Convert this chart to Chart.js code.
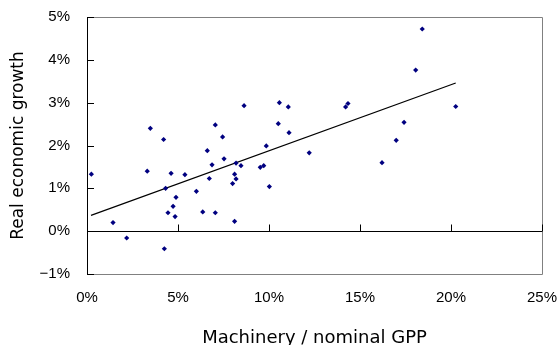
<!DOCTYPE html>
<html>
<head>
<meta charset="utf-8">
<script src="https://cdn.jsdelivr.net/npm/chart.js@4"></script>
<style>
  html, body { margin: 0; padding: 0; background: #fff; }
  #wrap { width: 560px; height: 345px; }
</style>
</head>
<body>
<div id="wrap"><canvas id="chart"></canvas></div>
<script>
// machinery / nominal GPP (%) and real economic growth (%), one point per prefecture
const machineryShare = [
    0.24, 1.43, 2.18, 3.31, 3.48, 4.21, 4.25, 4.32, 4.45, 4.62,
    4.73, 4.84, 4.89, 5.38, 6.01, 6.36, 6.61, 6.72, 6.87, 7.05,
    7.05, 7.45, 7.53, 8.00, 8.11, 8.11, 8.19, 8.19, 8.46, 8.63,
    9.52, 9.71, 9.85, 10.02, 10.51, 10.57, 11.06, 11.10, 12.21, 14.21,
    14.34, 16.21, 16.99, 17.42, 18.06, 18.42, 20.26
];
const realGrowth = [
    1.33, 0.20, -0.16, 1.40, 2.40, 2.14, -0.41, 1.00, 0.43, 1.35,
    0.58, 0.34, 0.79, 1.32, 0.93, 0.45, 1.88, 1.23, 1.55, 2.48,
    0.43, 2.20, 1.69, 1.11, 1.33, 0.23, 1.22, 1.59, 1.53, 2.93,
    1.49, 1.53, 1.99, 1.04, 2.51, 3.00, 2.90, 2.30, 1.83, 2.90,
    2.98, 1.60, 2.12, 2.54, 3.76, 4.72, 2.91
];

// trend line end points
const trendX = [0.22, 20.26];
const trendY = [0.37, 3.46];

const X_TICKS = [0, 5, 10, 15, 20, 25];
const Y_TICKS = [-1, 0, 1, 2, 3, 4, 5];

const FONT = "'Liberation Sans', Arial, sans-serif";
const TITLE_FONT = "'DejaVu Sans', sans-serif";

const pctLabel = v => (v < 0 ? "\u2212" + Math.abs(v) : v) + "%";

/* inward tick marks + grey frame */
const frameTicks = {
    id: "frameTicks",
    beforeDatasetsDraw(chart) {
        const { ctx, chartArea: a, scales } = chart;
        ctx.save();
        ctx.lineWidth = 1;
        ctx.strokeStyle = "#808080";
        ctx.beginPath();
        ctx.moveTo(a.left, a.top + 0.5);
        ctx.lineTo(a.right + 0.5, a.top + 0.5);
        ctx.lineTo(a.right + 0.5, a.bottom + 0.5);
        ctx.lineTo(a.left, a.bottom + 0.5);
        ctx.stroke();

        ctx.strokeStyle = "#000";
        ctx.beginPath();
        Y_TICKS.forEach(v => {
            const y = Math.round(scales.y.getPixelForValue(v)) + 0.5;
            ctx.moveTo(a.left, y);
            ctx.lineTo(a.left + 7, y);
        });
        const y0 = Math.round(scales.y.getPixelForValue(0)) + 0.5;
        X_TICKS.forEach(v => {
            const x = Math.round(scales.x.getPixelForValue(v)) + 0.5;
            ctx.moveTo(x, y0);
            ctx.lineTo(x, y0 - 7);
        });
        ctx.stroke();
        ctx.restore();
    }
};

new Chart(document.getElementById("chart"), {
    type: "scatter",
    data: {
        datasets: [
            {
                data: machineryShare.map((x, i) => ({ x, y: realGrowth[i] })),
                pointStyle: "rectRot",
                pointRadius: 2.6,
                backgroundColor: "#000080",
                borderColor: "#000080",
                borderWidth: 0
            },
            {
                type: "line",
                data: trendX.map((x, i) => ({ x, y: trendY[i] })),
                borderColor: "#000",
                borderWidth: 1.2,
                pointRadius: 0,
                fill: false
            }
        ]
    },
    options: {
        responsive: true,
        maintainAspectRatio: false,
        animation: false,
        layout: { padding: { top: 17, right: 18, left: 0, bottom: 0 } },
        plugins: {
            legend: { display: false },
            tooltip: { enabled: false }
        },
        scales: {
            x: {
                type: "linear",
                min: 0,
                max: 25,
                afterBuildTicks: s => { s.ticks = X_TICKS.map(v => ({ value: v })); },
                afterFit: s => {
                    s.height = 71;
                    s.paddingLeft = 0;
                    s.paddingRight = 0;
                },
                ticks: {
                    color: "#000",
                    font: { family: FONT, size: 15 },
                    padding: 15,
                    maxRotation: 0,
                    callback: v => pctLabel(v)
                },
                grid: { display: false, drawTicks: false },
                border: { display: false },
                title: {
                    display: true,
                    text: "Machinery / nominal GPP",
                    color: "#000",
                    font: { family: TITLE_FONT, size: 18 },
                    padding: { top: 0, bottom: -4 }
                }
            },
            y: {
                min: -1,
                max: 5,
                afterBuildTicks: s => { s.ticks = Y_TICKS.map(v => ({ value: v })); },
                afterFit: s => {
                    s.width = 87;
                    s.paddingTop = 0;
                    s.paddingBottom = 0;
                },
                ticks: {
                    color: "#000",
                    font: { family: FONT, size: 15 },
                    padding: 17,
                    callback: v => pctLabel(v)
                },
                grid: {
                    drawTicks: false,
                    color: c => (c.tick && c.tick.value === 0 ? "#000" : "rgba(0,0,0,0)"),
                    lineWidth: 1
                },
                border: { display: true, color: "#000", width: 1 },
                title: {
                    display: true,
                    text: "Real economic growth",
                    color: "#000",
                    font: { family: TITLE_FONT, size: 17 },
                    padding: { top: 8, bottom: 0 }
                }
            }
        }
    },
    plugins: [frameTicks]
});
</script>
</body>
</html>
